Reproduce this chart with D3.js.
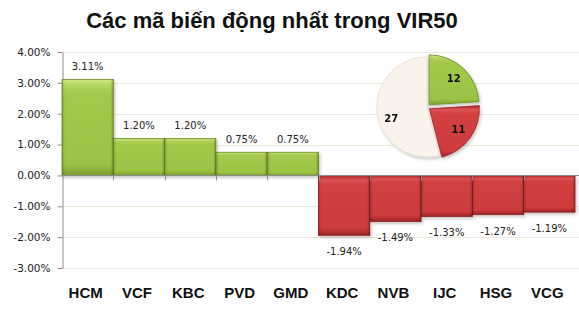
<!DOCTYPE html>
<html>
<head>
<meta charset="utf-8">
<script src="https://cdn.jsdelivr.net/npm/d3@7"></script>
<style>
  body { margin: 0; background: #fff; }
  svg { display: block; }
</style>
</head>
<body>
<svg id="chart" width="579" height="315"></svg>
<script>
// chart data
const categories = ['HCM', 'VCF', 'KBC', 'PVD', 'GMD', 'KDC', 'NVB', 'IJC', 'HSG', 'VCG'];
const changes = [3.11, 1.20, 1.20, 0.75, 0.75, -1.94, -1.49, -1.33, -1.27, -1.19];
const yTicks = [4, 3, 2, 1, 0, -1, -2, -3];
const pieLabels = ['up', 'down', 'flat'];
const pieCounts = [12, 11, 27];

const width = 579, height = 315;
const margin = { top: 52, right: 4, bottom: 47, left: 62 };

// hyphen instead of unicode minus, like the original
const pct = v => d3.format('.2f')(v).replace('\u2212', '-') + '%';

const svg = d3.select('#chart');
const defs = svg.append('defs');

function grad(id, horizontal, stops) {
  const g = defs.append('linearGradient').attr('id', id)
    .attr('x1', 0).attr('y1', 0)
    .attr('x2', horizontal ? 1 : 0).attr('y2', horizontal ? 0 : 1);
  stops.forEach(s => g.append('stop').attr('offset', s[0])
    .attr('stop-color', s[1]).attr('stop-opacity', s[2] == null ? 1 : s[2]));
}
grad('gGreen', false, [[0, '#cfe685'], [0.06, '#b4d65e'], [0.14, '#a4c94c'], [0.88, '#9cc345'], [1, '#7d9d2e']]);
grad('gRed', false, [[0, '#a8282a'], [0.08, '#dc5253'], [0.16, '#d24142'], [0.88, '#cd3b3d'], [1, '#9c2426']]);
grad('gSide', true, [[0, '#000', 0.18], [0.06, '#000', 0], [0.94, '#000', 0], [1, '#000', 0.22]]);

const shadow = defs.append('filter').attr('id', 'shadow')
  .attr('x', '-10%').attr('y', '-10%').attr('width', '130%').attr('height', '130%');
shadow.append('feDropShadow').attr('dx', 1.5).attr('dy', 2).attr('stdDeviation', 1.5)
  .attr('flood-color', '#000').attr('flood-opacity', 0.22);

const x = d3.scaleBand().domain(categories)
  .range([margin.left, 575]).padding(0);
const y = d3.scaleLinear().domain([-3, 4])
  .range([height - margin.bottom, margin.top]);

// title
svg.append('text')
  .attr('x', 272).attr('y', 28)
  .attr('text-anchor', 'middle')
  .style('font-family', '"Liberation Sans", Arial, sans-serif')
  .style('font-weight', 'bold')
  .style('font-size', '22px')
  .style('fill', '#111')
  .text('Các mã biến động nhất trong VIR50');

// grid lines
svg.append('g')
  .selectAll('line')
  .data(yTicks)
  .join('line')
  .attr('x1', margin.left).attr('x2', width)
  .attr('y1', d => Math.round(y(d)) + 0.5).attr('y2', d => Math.round(y(d)) + 0.5)
  .attr('stroke', '#efe9dc').attr('stroke-width', 1);

// y axis
const yAxis = svg.append('g')
  .attr('transform', `translate(${margin.left + 0.5},0)`)
  .call(d3.axisLeft(y).tickValues(yTicks).tickSize(5).tickSizeOuter(0).tickFormat(pct));
yAxis.select('.domain').attr('stroke', '#8c8c8c');
yAxis.selectAll('.tick line').attr('stroke', '#8c8c8c');
yAxis.selectAll('.tick text')
  .attr('x', -12)
  .style('font-family', '"DejaVu Sans", Verdana, sans-serif')
  .style('font-size', '10.5px')
  .style('fill', '#222');

// bars
const bars = svg.append('g').attr('filter', 'url(#shadow)');
const barY = i => y(Math.max(0, changes[i]));
const barH = i => Math.abs(y(changes[i]) - y(0));
bars.selectAll('rect.bar')
  .data(categories)
  .join('rect')
  .attr('class', 'bar')
  .attr('x', d => x(d))
  .attr('width', x.bandwidth())
  .attr('y', (d, i) => barY(i))
  .attr('height', (d, i) => barH(i))
  .attr('fill', (d, i) => changes[i] >= 0 ? 'url(#gGreen)' : 'url(#gRed)')
  .attr('stroke', (d, i) => changes[i] >= 0 ? '#6e8a22' : '#8e1e20')
  .attr('stroke-width', 0.8);
bars.selectAll('rect.side')
  .data(categories)
  .join('rect')
  .attr('class', 'side')
  .attr('x', d => x(d))
  .attr('width', x.bandwidth())
  .attr('y', (d, i) => barY(i))
  .attr('height', (d, i) => barH(i))
  .attr('fill', 'url(#gSide)');

// zero line + category ticks
svg.append('line')
  .attr('x1', margin.left).attr('x2', width)
  .attr('y1', Math.round(y(0)) + 0.5).attr('y2', Math.round(y(0)) + 0.5)
  .attr('stroke', '#8c8c8c');
svg.append('g')
  .selectAll('line')
  .data(categories.slice(1))
  .join('line')
  .attr('x1', d => Math.round(x(d)) + 0.5).attr('x2', d => Math.round(x(d)) + 0.5)
  .attr('y1', y(0)).attr('y2', y(0) + 5)
  .attr('stroke', '#8c8c8c');

// value labels
svg.append('g')
  .selectAll('text')
  .data(categories)
  .join('text')
  .attr('x', d => x(d) + x.bandwidth() / 2)
  .attr('y', (d, i) => changes[i] >= 0 ? y(changes[i]) - 9 : y(changes[i]) + 20)
  .attr('text-anchor', 'middle')
  .style('font-family', '"DejaVu Sans", Verdana, sans-serif')
  .style('font-size', '10px')
  .style('fill', '#222')
  .text((d, i) => pct(changes[i]));

// category labels
svg.append('g')
  .selectAll('text')
  .data(categories)
  .join('text')
  .attr('x', d => x(d) + x.bandwidth() / 2 - 2)
  .attr('y', 298)
  .attr('text-anchor', 'middle')
  .style('font-family', '"Liberation Sans", Arial, sans-serif')
  .style('font-weight', 'bold')
  .style('font-size', '15px')
  .style('fill', '#111')
  .text(d => d);

// pie
const pieColors = { up: 'url(#gGreen)', down: 'url(#gRed)', flat: '#f9f3ec' };
const pieStroke = { up: '#6e8a22', down: '#9a2225', flat: '#e6dccf' };
const explode = { up: 3, down: 3, flat: 0 };
const pieRadius = 50;
const pieCx = 427, pieCy = 107;

const pie = d3.pie().sort(null).value(d => d.v);
const arcs = pie(pieLabels.map((k, i) => ({ k, v: pieCounts[i] })));
const arc = d3.arc().innerRadius(0).outerRadius(pieRadius);
const labelArc = d3.arc().innerRadius(0).outerRadius(pieRadius * 1.44);

const pg = svg.append('g')
  .attr('transform', `translate(${pieCx},${pieCy})`)
  .attr('filter', 'url(#shadow)');
const slices = pg.selectAll('g')
  .data(arcs)
  .join('g')
  .attr('transform', d => {
    const a = (d.startAngle + d.endAngle) / 2;
    const e = explode[d.data.k];
    return `translate(${Math.sin(a) * e},${-Math.cos(a) * e})`;
  });
slices.append('path')
  .attr('d', arc)
  .attr('fill', d => pieColors[d.data.k])
  .attr('stroke', d => pieStroke[d.data.k])
  .attr('stroke-width', 0.8);
slices.append('text')
  .attr('transform', d => {
    const c = labelArc.centroid(d);
    return `translate(${c[0]},${c[1] + (d.data.k === 'flat' ? 7 : 0)})`;
  })
  .attr('text-anchor', 'middle')
  .attr('dy', '0.35em')
  .style('font-family', '"DejaVu Sans", Verdana, sans-serif')
  .style('font-weight', 'bold')
  .style('font-size', '10px')
  .style('fill', '#111')
  .text(d => d.data.v);
</script>
</body>
</html>
